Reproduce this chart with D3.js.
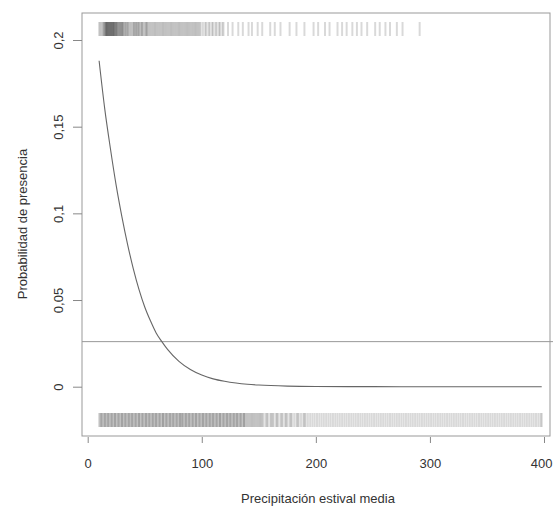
<!DOCTYPE html>
<html>
<head>
<meta charset="utf-8">
<script src="https://cdn.jsdelivr.net/npm/d3@7"></script>
<style>
  html, body { margin: 0; padding: 0; background: #fff; }
  svg { display: block; font-family: "Liberation Sans", Arial, sans-serif; }
</style>
</head>
<body>
<svg id="chart" width="553" height="511"></svg>
<script>
// ---- Data ----
const xTicks = [0, 100, 200, 300, 400];
const xTickLabels = ["0", "100", "200", "300", "400"];
const yTicks = [0, 0.05, 0.1, 0.15, 0.2];
const yTickLabels = ["0", "0,05", "0,1", "0,15", "0,2"];

// fitted probability curve (estimated points)
const curveX = [10, 15, 20, 25, 30, 35, 40, 45, 50, 55, 60, 65, 70, 80, 90, 100, 110, 120, 130, 140, 150, 175, 200, 250, 300, 350, 398];
const curveY = [0.188, 0.160, 0.137, 0.116, 0.098, 0.082, 0.068, 0.056, 0.046, 0.038, 0.031, 0.026, 0.0215, 0.0146, 0.0099, 0.0067, 0.0045, 0.0031, 0.0021, 0.0014, 0.00095, 0.00035, 0.00013, 0.00002, 0, 0, 0];

// threshold (horizontal line)
const threshold = [0.026];

// presences (top rug)
const presence = [10,11,12,13,14,14,15,15,16,16,16,17,17,17,18,18,18,19,19,19,20,20,20,21,21,21,22,22,22,23,23,23,24,24,25,25,25,26,26,27,27,28,28,29,29,30,30,31,31,32,33,33,34,35,35,36,37,38,39,40,40.5,41,42,42.5,43,44,44.5,45,46,47,47.5,48,49,50,51,51.5,52,53,54,55,56,57,58,59,60,61,62,63,64,65,66,67,68,69,70,71,72,73,74,75,76,77,78,79,80,81,82,83,84,85,86,87,88,89,90,91,92,93,94,95,96,97,98,99,101,103,104,106,107,109,110,112,113,115,116,118,119,123,127,132,136,141,144,149,153,160,164,169,177,183,190,198,202,208,212,219,223,227,232,236,240,245,252,256,261,265,271,276,291];

// absences (bottom rug)
const absence = [10,11,12,12,13,14,15,15,16,17,18,18,19,20,21,21,22,23,24,24,25,26,27,27,28,29,30,30,31,32,33,33,34,35,36,36,37,38,39,39,40,41,42,42,43,44,45,45,46,47,48,48,49,50,51,51,52,53,54,54,55,56,57,57,58,59,60,60,61,62,63,63,64,65,66,66,67,68,69,69,70,71,72,72,73,74,75,75,76,77,78,78,79,80,81,81,82,83,83,84,85,86,86,87,88,89,89,90,91,92,92,93,94,95,95,96,97,98,98,99,100,101,101,102,103,104,104,105,106,107,107,108,109,110,110,111,112,113,113,114,115,116,116,117,118,119,119,120,121,122,122,123,124,125,125,126,127,128,128,129,130,131,131,132,133,134,134,135,136,137,137,138,139,140,141,142,143,144,145,146,147,148,149,150,151,152,153,154,156,157,158,160,161,162,163,165,166,167,169,170,171,173,174,175,177,178,179,181,183,184,185,187,189,190,191,193,195,197,199,201,203,205,207,209,211,213,215,217,219,221,223,225,227,229,231,233,235,237,239,241,243,245,247,249,251,253,255,257,259,261,263,265,267,269,271,273,275,277,279,281,283,285,287,289,291,293,295,297,299,301,303,305,307,309,311,313,315,317,319,321,323,325,327,329,331,333,335,337,339,341,343,345,347,349,351,353,355,357,359,361,363,365,367,369,371,373,375,377,379,381,383,385,387,389,391,393,395,397,398];

const xTitle = "Precipitación estival media";
const yTitle = "Probabilidad de presencia";

// ---- Layout ----
const svg = d3.select("#chart");
const box = { left: 82, right: 550, top: 13, bottom: 436 };

const x = d3.scaleLinear().domain([0, 400]).range([87.7, 544]);
const y = d3.scaleLinear().domain([0, 0.2]).range([386.7, 40]);

// rugs
const rugG = svg.append("g");
rugG.selectAll("line.top").data(presence).join("line")
  .attr("class", "top")
  .attr("x1", d => x(d)).attr("x2", d => x(d))
  .attr("y1", 22).attr("y2", 36)
  .attr("stroke", "#000").attr("stroke-opacity", 0.15).attr("stroke-width", 2);
rugG.selectAll("line.bot").data(absence).join("line")
  .attr("class", "bot")
  .attr("x1", d => x(d)).attr("x2", d => x(d))
  .attr("y1", 413).attr("y2", 427)
  .attr("stroke", "#000").attr("stroke-opacity", 0.15).attr("stroke-width", 2);

// box
svg.append("rect")
  .attr("x", box.left).attr("y", box.top)
  .attr("width", box.right - box.left).attr("height", box.bottom - box.top)
  .attr("fill", "none").attr("stroke", "#999").attr("stroke-width", 1);

// threshold line
svg.selectAll("line.thr").data(threshold).join("line")
  .attr("class", "thr")
  .attr("x1", box.left).attr("x2", 553)
  .attr("y1", d => y(d)).attr("y2", d => y(d))
  .attr("stroke", "#999").attr("stroke-width", 1);

// curve
const pts = curveX.map((v, i) => [v, curveY[i]]);
svg.append("path")
  .datum(pts)
  .attr("fill", "none").attr("stroke", "#666").attr("stroke-width", 1.1)
  .attr("d", d3.line().x(d => x(d[0])).y(d => y(d[1])).curve(d3.curveMonotoneX));

// x axis
const xAxis = d3.axisBottom(x).tickValues(xTicks).tickSize(6).tickPadding(16)
  .tickFormat((d, i) => xTickLabels[i]);
const gx = svg.append("g").attr("transform", `translate(0,${box.bottom + 1})`).call(xAxis);
gx.select(".domain").remove();
gx.selectAll(".tick line").attr("stroke", "#888");
gx.selectAll(".tick text").attr("font-size", 13).attr("fill", "#333")
  .attr("font-family", "Liberation Sans, Arial, sans-serif");
// keep the last label inside the window
gx.selectAll(".tick text").filter((d, i) => i === xTicks.length - 1)
  .attr("text-anchor", "end").attr("x", 552 - x(400));

// y axis
const yAxis = d3.axisLeft(y).tickValues(yTicks).tickSize(9).tickFormat((d, i) => yTickLabels[i]);
const gy = svg.append("g").attr("transform", `translate(${box.left},0)`).call(yAxis);
gy.select(".domain").remove();
gy.selectAll(".tick line").attr("stroke", "#888");
gy.selectAll(".tick text")
  .attr("font-size", 13).attr("fill", "#333")
  .attr("font-family", "Liberation Sans, Arial, sans-serif")
  .attr("x", null).attr("dy", null)
  .attr("text-anchor", "middle")
  .attr("transform", "translate(-19,0) rotate(-90)")
  .attr("y", 0);

// titles
svg.append("text")
  .attr("x", 318).attr("y", 503)
  .attr("text-anchor", "middle").attr("font-size", 13).attr("fill", "#333")
  .text(xTitle);
svg.append("text")
  .attr("transform", "translate(27,224) rotate(-90)")
  .attr("text-anchor", "middle").attr("font-size", 13).attr("fill", "#333")
  .text(yTitle);
</script>
</body>
</html>
